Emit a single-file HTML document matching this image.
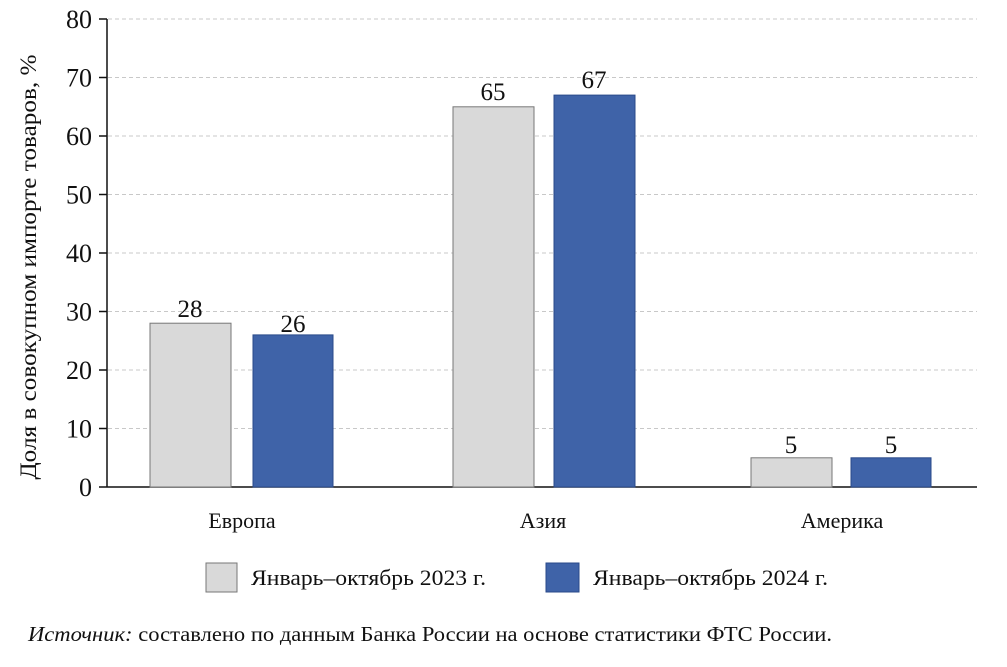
<!DOCTYPE html>
<html><head><meta charset="utf-8"><style>
body{margin:0;background:#fff}
svg text{font-family:"Liberation Serif",serif;fill:#111}
</style></head><body>
<svg width="1007" height="662" xmlns="http://www.w3.org/2000/svg">
<g stroke="#c8c8c8" stroke-dasharray="4,3" stroke-width="1">
<line x1="108" y1="19" x2="977" y2="19"/><line x1="108" y1="77.5" x2="977" y2="77.5"/>
<line x1="108" y1="136" x2="977" y2="136"/><line x1="108" y1="194.5" x2="977" y2="194.5"/>
<line x1="108" y1="253" x2="977" y2="253"/><line x1="108" y1="311.5" x2="977" y2="311.5"/>
<line x1="108" y1="370" x2="977" y2="370"/><line x1="108" y1="428.5" x2="977" y2="428.5"/>
</g>
<g stroke="#111" stroke-width="1.5">
<line x1="107" y1="19" x2="107" y2="487"/><line x1="99" y1="487" x2="977" y2="487"/>
<line x1="99" y1="19" x2="107" y2="19"/><line x1="99" y1="77.5" x2="107" y2="77.5"/>
<line x1="99" y1="136" x2="107" y2="136"/><line x1="99" y1="194.5" x2="107" y2="194.5"/>
<line x1="99" y1="253" x2="107" y2="253"/><line x1="99" y1="311.5" x2="107" y2="311.5"/>
<line x1="99" y1="370" x2="107" y2="370"/><line x1="99" y1="428.5" x2="107" y2="428.5"/>
</g>
<g font-size="26" text-anchor="end">
<text x="92" y="28">80</text><text x="92" y="86.5">70</text><text x="92" y="145">60</text>
<text x="92" y="203.5">50</text><text x="92" y="262">40</text><text x="92" y="320.5">30</text>
<text x="92" y="379">20</text><text x="92" y="437.5">10</text><text x="92" y="496">0</text>
</g>
<text transform="translate(36,267) rotate(-90)" font-size="23" text-anchor="middle" textLength="425" lengthAdjust="spacingAndGlyphs">Доля в совокупном импорте товаров, %</text>
<g stroke="#777" stroke-width="1" fill="#d9d9d9">
<rect x="150" y="323.2" width="81" height="163.8"/>
<rect x="453" y="106.8" width="81" height="380.2"/>
<rect x="751" y="457.8" width="81" height="29.2"/>
</g>
<g stroke="#2a4a8a" stroke-width="1" fill="#3f63a8">
<rect x="253" y="334.9" width="80" height="152.1"/>
<rect x="554" y="95.1" width="81" height="391.9"/>
<rect x="851" y="457.8" width="80" height="29.2"/>
</g>
<g font-size="25" text-anchor="middle">
<text x="190" y="317">28</text><text x="293" y="332">26</text>
<text x="493" y="100">65</text><text x="594" y="88">67</text>
<text x="791" y="453">5</text><text x="891" y="453">5</text>
</g>
<g font-size="22" text-anchor="middle">
<text x="242" y="528">Европа</text>
<text x="543" y="528">Азия</text>
<text x="842" y="528">Америка</text>
</g>
<rect x="206" y="563" width="31" height="29" fill="#d9d9d9" stroke="#777"/>
<text x="251" y="585" font-size="22" textLength="235" lengthAdjust="spacingAndGlyphs">Январь–октябрь 2023 г.</text>
<rect x="546" y="563" width="33" height="29" fill="#3f63a8" stroke="#2a4a8a"/>
<text x="593" y="585" font-size="22" textLength="235" lengthAdjust="spacingAndGlyphs">Январь–октябрь 2024 г.</text>
<text x="28" y="641" font-size="21" textLength="804" lengthAdjust="spacingAndGlyphs"><tspan font-style="italic">Источник:</tspan> составлено по данным Банка России на основе статистики ФТС России.</text>
</svg>
</body></html>
